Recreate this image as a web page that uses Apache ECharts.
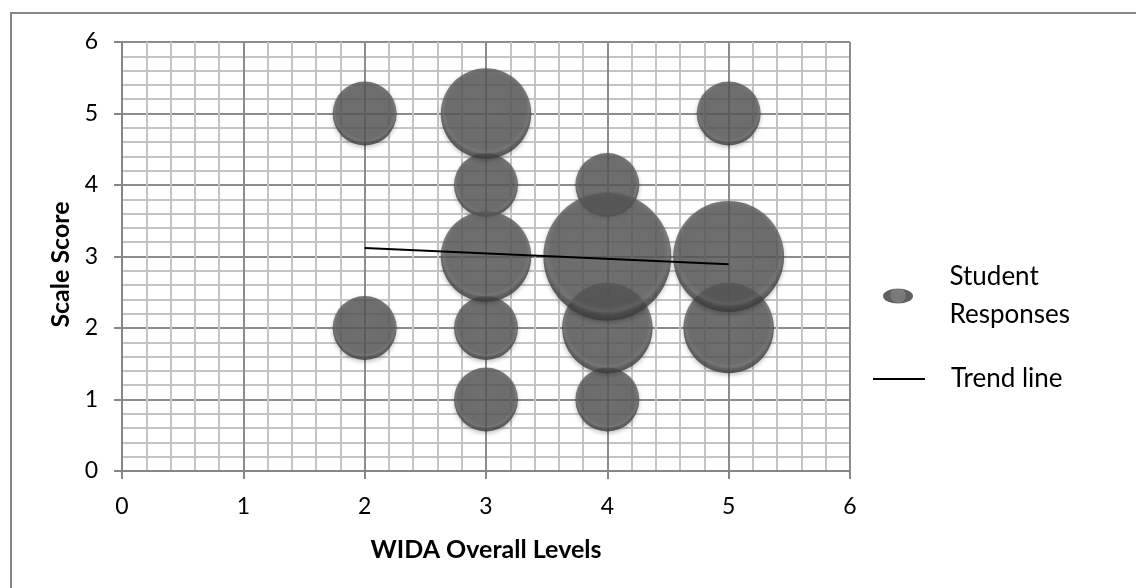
<!DOCTYPE html>
<html>
<head>
<meta charset="utf-8">
<script src="https://cdn.jsdelivr.net/npm/echarts@6/dist/echarts.min.js"></script>
<style>
  html, body { margin: 0; padding: 0; background: #fff; }
  #container { width: 1136px; height: 588px; }
</style>
</head>
<body>
<div id="container"></div>
<script>
// bubble data: [level, score, count]
var levels = [2, 2, 3, 3, 3, 3, 3, 4, 4, 4, 4, 5, 5, 5];
var scores = [5, 2, 5, 4, 3, 2, 1, 4, 3, 2, 1, 5, 3, 2];
var counts = [1, 1, 2, 1, 2, 1, 1, 1, 4, 2, 1, 1, 3, 2];

// trend line end points
var trendX = [2, 5];
var trendY = [3.12, 2.89];

var axisTicks = [0, 1, 2, 3, 4, 5, 6];

var font = 'Lato';

function printChart() {
    var dom = document.getElementById('container');
    var myChart = echarts.init(dom);

    var bubbles = [];
    for (let i = 0; i < levels.length; i++) {
        bubbles.push([levels[i], scores[i], counts[i]]);
    }
    // small ones first so the big ones sit on top
    bubbles.sort(function (a, b) { return a[2] - b[2]; });

    var trend = [];
    for (let i = 0; i < trendX.length; i++) {
        trend.push([trendX[i], trendY[i]]);
    }

    var bubbleColor = {
        type: 'radial', x: 0.5, y: 0.45, r: 0.55,
        colorStops: [
            { offset: 0, color: '#5b5b5b' },
            { offset: 0.8, color: '#575757' },
            { offset: 0.87, color: '#626262' },
            { offset: 0.92, color: '#484848' },
            { offset: 1, color: '#383838' }
        ]
    };

    var axisCommon = {
        type: 'value',
        min: axisTicks[0],
        max: axisTicks[axisTicks.length - 1],
        interval: 1,
        axisLine: { show: true, lineStyle: { color: '#868686', width: 2 } },
        axisTick: { show: true, inside: false, length: 8, lineStyle: { color: '#868686', width: 2 } },
        axisLabel: { color: '#000', fontSize: 23, fontFamily: font, margin: 24 },
        splitLine: { show: true, lineStyle: { color: '#8c8c8c', width: 2 } },
        minorTick: { show: false, splitNumber: 5 },
        minorSplitLine: { show: true, lineStyle: { color: '#c4c4c4', width: 2 } },
        nameTextStyle: { color: '#000', fontSize: 25, fontWeight: 'bold', fontFamily: font }
    };

    var option = {
        backgroundColor: '#fff',
        animation: false,
        textStyle: { fontFamily: font },
        grid: { left: 122, top: 42, right: 286, bottom: 117 },
        xAxis: Object.assign({}, axisCommon, {
            name: 'WIDA Overall Levels',
            nameLocation: 'middle',
            nameGap: 66
        }),
        yAxis: Object.assign({}, axisCommon, {
            name: 'Scale Score',
            nameLocation: 'middle',
            nameGap: 49,
            nameTextStyle: Object.assign({}, axisCommon.nameTextStyle, { padding: [0, 16, 0, 0] })
        }),
        graphic: [{
            type: 'rect',
            shape: { x: 11, y: 13, width: 1300, height: 700 },
            style: { fill: 'none', stroke: '#868686', lineWidth: 2 },
            silent: true
        }],
        legend: [
            {
                data: [{ name: 'Student Responses', icon: 'path://M0,5 A10,5 0 1,0 20,5 A10,5 0 1,0 0,5 Z' }],
                left: 883,
                top: 246,
                padding: 0,
                itemWidth: 33,
                itemHeight: 15,
                selectedMode: false,
                formatter: function () { return 'Student\nResponses'; },
                textStyle: { color: '#000', fontSize: 26, fontFamily: font, lineHeight: 38, padding: [0, 0, 24, 30] }
            },
            {
                data: [{ name: 'Trend line', icon: 'rect', itemStyle: { color: '#000' } }],
                left: 873,
                top: 366,
                padding: 0,
                itemWidth: 52,
                itemHeight: 2,
                selectedMode: false,
                textStyle: { color: '#000', fontSize: 26, fontFamily: font, padding: [0, 0, 0, 21] }
            }
        ],
        series: [
            {
                name: 'Student Responses',
                type: 'scatter',
                data: bubbles,
                symbolSize: function (d) { return 64 * Math.sqrt(d[2]); },
                itemStyle: {
                    color: bubbleColor,
                    shadowColor: 'rgba(0,0,0,0.3)',
                    shadowBlur: 4,
                    shadowOffsetY: 2
                },
                z: 2
            },
            {
                name: 'Trend line',
                type: 'line',
                data: trend,
                symbol: 'none',
                lineStyle: { color: '#000', width: 2 },
                itemStyle: { color: '#000' },
                z: 5
            }
        ]
    };

    myChart.setOption(option, true);
}

printChart();
</script>
</body>
</html>
